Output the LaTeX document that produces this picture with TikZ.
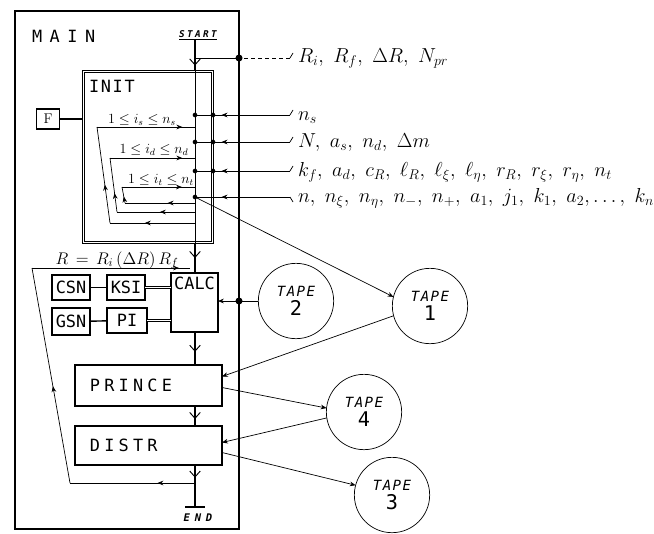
\documentclass[tikz,border=0pt]{standalone}
\usepackage{amsmath,amssymb}
\usepackage{fontspec}
\newfontfamily\boxfont{DejaVu Sans Mono}
\newfontfamily\handfont[LetterSpace=10]{DejaVu Sans Mono}
\newfontfamily\widefont[LetterSpace=25]{DejaVu Sans Mono}
\newfontfamily\widerfont[LetterSpace=45]{DejaVu Sans Mono}
\usepackage{tikz}
\usetikzlibrary{positioning,arrows.meta,calc,decorations.markings}

\begin{document}
\begin{tikzpicture}[x=0.03cm,y=-0.03cm,every node/.style={inner sep=0pt,outer sep=0pt},
  box/.style={draw,line width=1.4pt,font=\boxfont\Large},
  spine/.style={line width=2.4pt},
  wire/.style={line width=0.6pt},
  dot/.style={circle,fill,minimum size=4pt},
  tape/.style={draw,circle,line width=0.6pt,minimum size=2.26cm,align=center},
  midarrow/.style={postaction={decorate},decoration={markings,mark=at position #1 with {\arrow{Stealth[length=5pt,width=4pt]}}}},
  bigarrow/.style={postaction={decorate},decoration={markings,mark=at position #1 with {\arrow[line width=0.8pt]{Straight Barb[length=5pt,width=9pt]}}}}]
  \useasboundingbox (0,0) rectangle (654,533);
  % frames
  \node[draw,line width=1.8pt,minimum width=6.72cm,minimum height=15.54cm] (main) at (127,270) {};
  \node[font=\widerfont\Large,anchor=west] (mainlbl) at (32,36) {MAIN};
  \node[draw,line width=0.8pt,minimum width=3.93cm,minimum height=5.19cm] (init) at (147.5,156.5) {};
  \draw[line width=0.8pt] ([shift={(2,2)}]init.north west) rectangle ([shift={(-2,-2)}]init.south east);
  \node[font=\handfont\Large,anchor=west] (initlbl) at (89,86) {INIT};
  \node[draw,line width=1.2pt,minimum width=0.7cm,minimum height=0.6cm,font=\large] (f) at (48,119) {F};
  \draw[line width=1pt] (f) -- (f -| init.west);
  % start
  \node[font=\widefont\footnotesize\bfseries\itshape] (start) at (198,34) {START};
  \draw[line width=1pt] ([yshift=-2pt]start.south west) -- ([yshift=-2pt]start.south east);
  \coordinate (st) at (195,40);
  \draw[spine,bigarrow=0.85] (st) -- (init.north -| st);
  \draw[wire] (init.north -| st) -- (init.south -| st);
  % parameters
  \foreach \n/\y in {1/58,2/115,3/142,4/171,5/197}{
    \coordinate (r\n) at (195,\y);
    \coordinate (h\n) at (290,\y);
  }
  \node[font=\LARGE,anchor=base west] (par1) at (298,62) {$R_i,\ R_f,\ \Delta R,\ N_{pr}$};
  \node[font=\LARGE,anchor=base west] (par2) at (298,120) {$n_s$};
  \node[font=\LARGE,anchor=base west] (par3) at (298,147) {$N,\ a_s,\ n_d,\ \Delta m$};
  \node[font=\LARGE,anchor=base west] (par4) at (298,176) {$k_f,\ a_d,\ c_R,\ \ell_R,\ \ell_\xi,\ \ell_\eta,\ r_R,\ r_\xi,\ r_\eta,\ n_t$};
  \node[font=\LARGE,anchor=base west] (par5) at (298,202) {$n,\ n_\xi,\ n_\eta,\ n_-,\ n_+,\ a_1,\ j_1,\ k_1,\ a_2,\ldots,\ k_n$};
  \draw[wire] ($(h1)+(3,-5)$) -- (h1);
  \draw[wire,dashed] (h1) -- (main.east |- r1);
  \draw[wire] (main.east |- r1) -- (r1);
  \node[dot,minimum size=6pt] (d1) at (main.east |- r1) {};
  \foreach \n in {2,3,4}{
    \draw[wire] ($(h\n)+(3,-5)$) -- (h\n);
    \draw[wire,midarrow=0.72] (h\n) -- (r\n);
    \node[dot] at (r\n) {};
    \node[dot] at (init.east |- r\n) {};
  }
  \draw[wire] ($(h5)+(3,5)$) -- (h5);
  \draw[wire,midarrow=0.72] (h5) -- (r5);
  \node[dot] at (r5) {};
  % loops
  \foreach \k/\xa/\xb/\yt/\yb/\pa/\pb/\pc in {s/97/110/127/223/0.59/0.4/0.87,d/110/117/158/212/0.45/0.35/0.85,t/122/125/187/203/0.39/0.4/0.82}{
    \coordinate (l\k1) at (195,\yb);
    \coordinate (l\k2) at (\xb,\yb);
    \coordinate (l\k3) at (\xa,\yt);
    \coordinate (l\k4) at (195,\yt);
    \draw[wire,midarrow=\pa] (l\k1) -- (l\k2);
    \draw[wire,midarrow=\pb] (l\k2) -- (l\k3);
    \draw[wire,midarrow=\pc] (l\k3) -- (l\k4);
  }
  \node[font=\large,anchor=base] (lbls) at (142,123) {$1\leq i_s\leq n_s$};
  \node[font=\large,anchor=base] (lbld) at (154,153) {$1\leq i_d\leq n_d$};
  \node[font=\large,anchor=base] (lblt) at (161,183) {$1\leq i_t\leq n_t$};
  % calc
  \node[box,minimum width=1.41cm,minimum height=1.77cm] (calc) at (194.5,302.5) {};
  \node[font=\boxfont\Large,anchor=north] (calclbl) at ([yshift=-3pt]calc.north) {CALC};
  \node[box,minimum width=1.14cm,minimum height=0.75cm] (csn) at (71,287.5) {CSN};
  \node[box,minimum width=1.14cm,minimum height=0.75cm] (ksi) at (126,287.5) {KSI};
  \node[box,minimum width=1.14cm,minimum height=0.8cm] (gsn) at (71,321.5) {GSN};
  \node[box,minimum width=1.2cm,minimum height=0.75cm] (pi) at (127,320.5) {PI};
  \draw[line width=1.2pt] (csn) -- (ksi);
  \draw[line width=1.2pt] (gsn) -- (pi);
  \draw[double,line width=0.6pt] (ksi) -- (ksi -| calc.west);
  \draw[double,line width=0.6pt] (pi) -- (pi -| calc.west);
  \draw[spine,bigarrow=0.5] (init.south -| st) -- (calc.north -| st);
  % R loop
  \coordinate (rl1) at (195,483);
  \coordinate (rl2) at (70,483);
  \coordinate (rl3) at (32,268);
  \coordinate (rl4) at (190,268);
  \draw[wire,midarrow=0.3] (rl1) -- (rl2);
  \draw[wire,midarrow=0.45] (rl2) -- (rl3);
  \draw[wire,midarrow=0.93] (rl3) -- (rl4);
  \node[font=\Large,anchor=base] (rlbl) at (117,264) {$R\,=\,R_i\,(\Delta R)\,R_f$};
  % prince, distr
  \node[box,minimum height=1.23cm,text width=3.51cm,inner xsep=0.45cm,align=left,font=\widefont\Large] (prince) at (148.5,385.5) {PRINCE};
  \node[box,minimum height=1.17cm,text width=3.51cm,inner xsep=0.45cm,align=left,font=\widefont\Large] (distr) at (148.5,445.5) {DISTR};
  \draw[spine,bigarrow=0.6] (calc.south -| st) -- (prince.north -| st);
  \draw[spine,bigarrow=0.65] (prince.south -| st) -- (distr.north -| st);
  \coordinate (en) at (195,507);
  \draw[spine,bigarrow=0.3] (distr.south -| st) -- (en);
  \draw[line width=1.4pt] ($(en)+(-10,0)$) -- ($(en)+(10,0)$);
  \node[font=\widerfont\small\bfseries\itshape] (endlbl) at (198,518) {END};
  % tapes
  \node[tape] (tape2) at (296,301) {{\handfont\large\itshape TAPE}\\[2pt]{\boxfont\LARGE 2}};
  \node[tape] (tape1) at (430,306) {{\handfont\large\itshape TAPE}\\[2pt]{\boxfont\LARGE 1}};
  \node[tape] (tape4) at (364,412) {{\handfont\large\itshape TAPE}\\[2pt]{\boxfont\LARGE 4}};
  \node[tape] (tape3) at (392,495) {{\handfont\large\itshape TAPE}\\[2pt]{\boxfont\LARGE 3}};
  \draw[wire,-{Stealth[length=5pt,width=4pt]}] (tape2.west) -- (calc.east |- tape2.west);
  \node[dot,minimum size=6pt] (d2) at (main.east |- tape2.west) {};
  \draw[wire,-{Stealth[length=5pt,width=4pt]}] (r5) -- (tape1.166);
  \draw[wire,-{Stealth[length=5pt,width=4pt]}] (tape1.195) -- ($(prince.east)+(0,-9)$);
  \draw[wire,-{Stealth[length=5pt,width=4pt]}] ($(prince.east)+(0,2)$) -- (tape4.174);
  \draw[wire,-{Stealth[length=5pt,width=4pt]}] (tape4.189) -- ($(distr.east)+(0,-3)$);
  \draw[wire,-{Stealth[length=5pt,width=4pt]}] ($(distr.east)+(0,7)$) -- (tape3.165);
\end{tikzpicture}
\end{document}
